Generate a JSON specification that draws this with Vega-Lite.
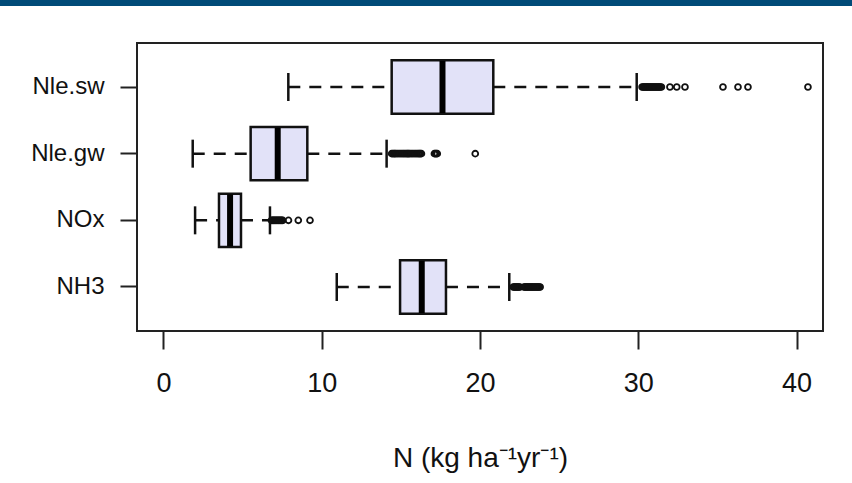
{
  "$schema": "https://vega.github.io/schema/vega-lite/v6.json",
  "padding": 0,
  "background": "white",
  "spacing": 36,
  "datasets": {
    "band": [{"k": 1}],
    "boxes": [
      {"group": "Nle.sw", "lo": 7.89, "q1": 14.42, "med": 17.63, "q3": 20.84, "hi": 29.9},
      {"group": "Nle.gw", "lo": 1.85, "q1": 5.51, "med": 7.22, "q3": 9.09, "hi": 14.1},
      {"group": "NOx", "lo": 2.0, "q1": 3.51, "med": 4.21, "q3": 4.9, "hi": 6.73},
      {"group": "NH3", "lo": 10.95, "q1": 14.95, "med": 16.32, "q3": 17.85, "hi": 21.85}
    ],
    "outliers": [
      {"group": "Nle.sw", "value": 30.24}, {"group": "Nle.sw", "value": 30.3}, {"group": "Nle.sw", "value": 30.37},
      {"group": "Nle.sw", "value": 30.42}, {"group": "Nle.sw", "value": 30.49}, {"group": "Nle.sw", "value": 30.55},
      {"group": "Nle.sw", "value": 30.6}, {"group": "Nle.sw", "value": 30.66}, {"group": "Nle.sw", "value": 30.73},
      {"group": "Nle.sw", "value": 30.78}, {"group": "Nle.sw", "value": 30.85}, {"group": "Nle.sw", "value": 30.91},
      {"group": "Nle.sw", "value": 30.96}, {"group": "Nle.sw", "value": 31.03}, {"group": "Nle.sw", "value": 31.09},
      {"group": "Nle.sw", "value": 31.14}, {"group": "Nle.sw", "value": 31.21}, {"group": "Nle.sw", "value": 31.27},
      {"group": "Nle.sw", "value": 31.32}, {"group": "Nle.sw", "value": 31.39}, {"group": "Nle.sw", "value": 31.46},
      {"group": "Nle.sw", "value": 32.0}, {"group": "Nle.sw", "value": 32.43}, {"group": "Nle.sw", "value": 32.95},
      {"group": "Nle.sw", "value": 35.35}, {"group": "Nle.sw", "value": 36.3}, {"group": "Nle.sw", "value": 36.93},
      {"group": "Nle.sw", "value": 40.72},
      {"group": "Nle.gw", "value": 14.42}, {"group": "Nle.gw", "value": 14.5}, {"group": "Nle.gw", "value": 14.57},
      {"group": "Nle.gw", "value": 14.63}, {"group": "Nle.gw", "value": 14.7}, {"group": "Nle.gw", "value": 14.79},
      {"group": "Nle.gw", "value": 14.88}, {"group": "Nle.gw", "value": 14.97}, {"group": "Nle.gw", "value": 15.06},
      {"group": "Nle.gw", "value": 15.14}, {"group": "Nle.gw", "value": 15.22}, {"group": "Nle.gw", "value": 15.3},
      {"group": "Nle.gw", "value": 15.38}, {"group": "Nle.gw", "value": 15.44}, {"group": "Nle.gw", "value": 15.5},
      {"group": "Nle.gw", "value": 15.57}, {"group": "Nle.gw", "value": 15.66}, {"group": "Nle.gw", "value": 15.75},
      {"group": "Nle.gw", "value": 15.84}, {"group": "Nle.gw", "value": 15.93}, {"group": "Nle.gw", "value": 16.02},
      {"group": "Nle.gw", "value": 16.1}, {"group": "Nle.gw", "value": 16.17}, {"group": "Nle.gw", "value": 16.23},
      {"group": "Nle.gw", "value": 16.3}, {"group": "Nle.gw", "value": 17.12}, {"group": "Nle.gw", "value": 17.18},
      {"group": "Nle.gw", "value": 17.24}, {"group": "Nle.gw", "value": 17.3}, {"group": "Nle.gw", "value": 19.7},
      {"group": "NOx", "value": 6.82}, {"group": "NOx", "value": 6.88}, {"group": "NOx", "value": 6.94},
      {"group": "NOx", "value": 7.0}, {"group": "NOx", "value": 7.06}, {"group": "NOx", "value": 7.12},
      {"group": "NOx", "value": 7.18}, {"group": "NOx", "value": 7.24}, {"group": "NOx", "value": 7.3},
      {"group": "NOx", "value": 7.36}, {"group": "NOx", "value": 7.42}, {"group": "NOx", "value": 7.48},
      {"group": "NOx", "value": 7.54}, {"group": "NOx", "value": 7.9}, {"group": "NOx", "value": 8.52},
      {"group": "NOx", "value": 9.26},
      {"group": "NH3", "value": 22.1}, {"group": "NH3", "value": 22.16}, {"group": "NH3", "value": 22.22},
      {"group": "NH3", "value": 22.28}, {"group": "NH3", "value": 22.34}, {"group": "NH3", "value": 22.4},
      {"group": "NH3", "value": 22.46}, {"group": "NH3", "value": 22.52}, {"group": "NH3", "value": 22.78},
      {"group": "NH3", "value": 22.84}, {"group": "NH3", "value": 22.9}, {"group": "NH3", "value": 22.96},
      {"group": "NH3", "value": 23.02}, {"group": "NH3", "value": 23.08}, {"group": "NH3", "value": 23.14},
      {"group": "NH3", "value": 23.2}, {"group": "NH3", "value": 23.26}, {"group": "NH3", "value": 23.32},
      {"group": "NH3", "value": 23.38}, {"group": "NH3", "value": 23.44}, {"group": "NH3", "value": 23.5},
      {"group": "NH3", "value": 23.56}, {"group": "NH3", "value": 23.62}, {"group": "NH3", "value": 23.68},
      {"group": "NH3", "value": 23.74}, {"group": "NH3", "value": 23.8}
    ]
  },
  "vconcat": [
    {
      "width": 852,
      "height": 6,
      "view": {"fill": "#004b78", "stroke": null},
      "data": {"name": "band"},
      "mark": {"type": "point", "opacity": 0},
      "encoding": {}
    },
    {
      "spacing": 0,
      "hconcat": [
        {
          "width": 29,
          "height": 288,
          "view": {"stroke": null, "fill": null},
          "data": {"name": "band"},
          "mark": {"type": "point", "opacity": 0},
          "encoding": {}
        },
        {
          "width": 686,
          "height": 288,
          "view": {"stroke": "#222222", "strokeWidth": 2, "fill": "white"},
          "encoding": {
            "y": {
              "field": "group",
              "type": "nominal",
              "sort": ["Nle.sw", "Nle.gw", "NOx", "NH3"],
              "scale": {"paddingInner": 0.2, "paddingOuter": 0.26},
              "axis": {
                "title": null,
                "tickSize": 17,
                "labelPadding": 16,
                "labelFontSize": 24
              }
            }
          },
          "layer": [
            {
              "data": {"name": "boxes"},
              "mark": {"type": "rule", "strokeDash": [12, 9], "strokeWidth": 2.5, "color": "#111111"},
              "encoding": {
                "x": {
                  "field": "lo",
                  "type": "quantitative",
                  "scale": {"domain": [-1.67, 41.67], "nice": false, "zero": false},
                  "axis": {
                    "values": [0, 10, 20, 30, 40],
                    "title": "N (kg ha⁻¹yr⁻¹)",
                    "tickSize": 18,
                    "labelPadding": 21,
                    "titlePadding": 48
                  }
                },
                "x2": {"field": "q1"}
              }
            },
            {
              "data": {"name": "boxes"},
              "mark": {"type": "rule", "strokeDash": [12, 9], "strokeWidth": 2.5, "color": "#111111"},
              "encoding": {
                "x": {"field": "q3", "type": "quantitative"},
                "x2": {"field": "hi"}
              }
            },
            {
              "data": {"name": "boxes"},
              "mark": {"type": "bar", "fill": "#e2e2f8", "stroke": "#111111", "strokeWidth": 2.5},
              "encoding": {
                "x": {"field": "q1", "type": "quantitative"},
                "x2": {"field": "q3"}
              }
            },
            {
              "data": {"name": "boxes"},
              "mark": {"type": "tick", "color": "#000000", "thickness": 6, "size": 52, "opacity": 1},
              "encoding": {
                "x": {"field": "med", "type": "quantitative"}
              }
            },
            {
              "data": {"name": "boxes"},
              "mark": {"type": "tick", "color": "#111111", "thickness": 2.5, "size": 28, "opacity": 1},
              "encoding": {
                "x": {"field": "lo", "type": "quantitative"}
              }
            },
            {
              "data": {"name": "boxes"},
              "mark": {"type": "tick", "color": "#111111", "thickness": 2.5, "size": 28, "opacity": 1},
              "encoding": {
                "x": {"field": "hi", "type": "quantitative"}
              }
            },
            {
              "data": {"name": "outliers"},
              "mark": {"type": "point", "shape": "circle", "filled": false, "size": 34, "strokeWidth": 1.8, "color": "#111111", "opacity": 1},
              "encoding": {
                "x": {"field": "value", "type": "quantitative"}
              }
            }
          ]
        }
      ]
    }
  ],
  "config": {
    "font": "Liberation Sans",
    "axis": {
      "labelFont": "Liberation Sans",
      "labelFontSize": 27,
      "labelColor": "#111111",
      "titleFont": "Liberation Sans",
      "titleFontSize": 28,
      "titleFontWeight": "normal",
      "titleColor": "#111111",
      "tickColor": "#222222",
      "tickWidth": 2,
      "domain": false,
      "grid": false
    }
  }
}
